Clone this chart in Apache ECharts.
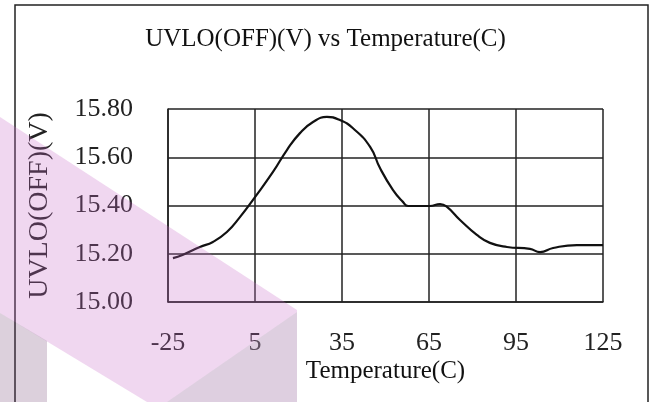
<!DOCTYPE html>
<html>
<head>
<meta charset="utf-8">
<script src="https://cdn.jsdelivr.net/npm/echarts@6/dist/echarts.min.js"></script>
<style>
html,body{margin:0;padding:0;background:#fff;}
#chart{width:651px;height:402px;}
</style>
</head>
<body>
<div id="chart"></div>
<script>
var chartTitle = 'UVLO(OFF)(V) vs Temperature(C)';
var xName = 'Temperature(C)';
var yName = 'UVLO(OFF)(V)';
var temps = [-23.3,-20,-14,-9.5,-4.7,-0.2,5,11.2,16,20.5,25,29.8,34.3,38.8,44.7,48.1,52.6,56,57.8,65.3,68.8,71.2,75.7,81.5,86,91.9,99.8,103.3,107.8,116,125];
var volts = [15.182,15.195,15.228,15.249,15.29,15.352,15.435,15.539,15.63,15.70,15.746,15.767,15.754,15.72,15.643,15.555,15.464,15.415,15.398,15.398,15.406,15.394,15.34,15.278,15.245,15.228,15.22,15.207,15.224,15.236,15.236];
var xMin = -25, xMax = 125, xStep = 30;
var yMin = 15, yMax = 15.8, yStep = 0.2;

var serif = '"Liberation Serif","DejaVu Serif",serif';
var data = temps.map(function(t,i){return [t, volts[i]];});
var chart = echarts.init(document.getElementById('chart'), null, {renderer:'canvas'});
chart.setOption({
  animation:false,
  backgroundColor:'#fff',
  title:{text:chartTitle,left:'center',top:22,textStyle:{fontFamily:serif,fontWeight:'normal',fontSize:25,color:'#111'}},
  grid:{left:168,right:48,top:109,bottom:100},
  xAxis:{type:'value',min:xMin,max:xMax,interval:xStep,
    name:xName,nameLocation:'middle',nameGap:57,
    nameTextStyle:{fontFamily:serif,fontSize:25,color:'#111'},
    axisLine:{show:true,onZero:false,lineStyle:{color:'#222',width:1.5}},
    axisTick:{show:false},
    axisLabel:{margin:28,fontFamily:serif,fontSize:26,color:'#222'},
    splitLine:{show:true,lineStyle:{color:'#222',width:1.5}}},
  yAxis:{type:'value',min:yMin,max:yMax,interval:yStep,
    name:yName,nameLocation:'middle',nameGap:114,nameRotate:90,
    nameTextStyle:{fontFamily:serif,fontSize:28,color:'#222'},
    axisLine:{show:true,onZero:false,lineStyle:{color:'#222',width:1.5}},
    axisTick:{show:false},
    axisLabel:{margin:35,fontFamily:serif,fontSize:26,color:'#222',formatter:function(v){return v.toFixed(2);}},
    splitLine:{show:true,lineStyle:{color:'#222',width:1.5}}},
  series:[{type:'line',data:data,showSymbol:false,smooth:0.5,
    lineStyle:{color:'#111',width:2.2},z:5}],
  graphic:[
    {type:'rect',shape:{x:15,y:5,width:633,height:420},style:{fill:'none',stroke:'#222',lineWidth:1.5},silent:true,z:1},
    {type:'polygon',shape:{points:[[0,117],[297,310],[297,402],[147,402],[0,313]]},style:{fill:'rgba(200,107,200,0.27)'},silent:true,z:100},
    {type:'polygon',shape:{points:[[0,313],[47,341],[47,402],[0,402]]},style:{fill:'rgba(115,67,115,0.25)'},silent:true,z:100},
    {type:'polygon',shape:{points:[[167,402],[297,312],[297,402]]},style:{fill:'rgba(160,184,169,0.22)'},silent:true,z:101}
  ]
});
</script>
</body>
</html>
